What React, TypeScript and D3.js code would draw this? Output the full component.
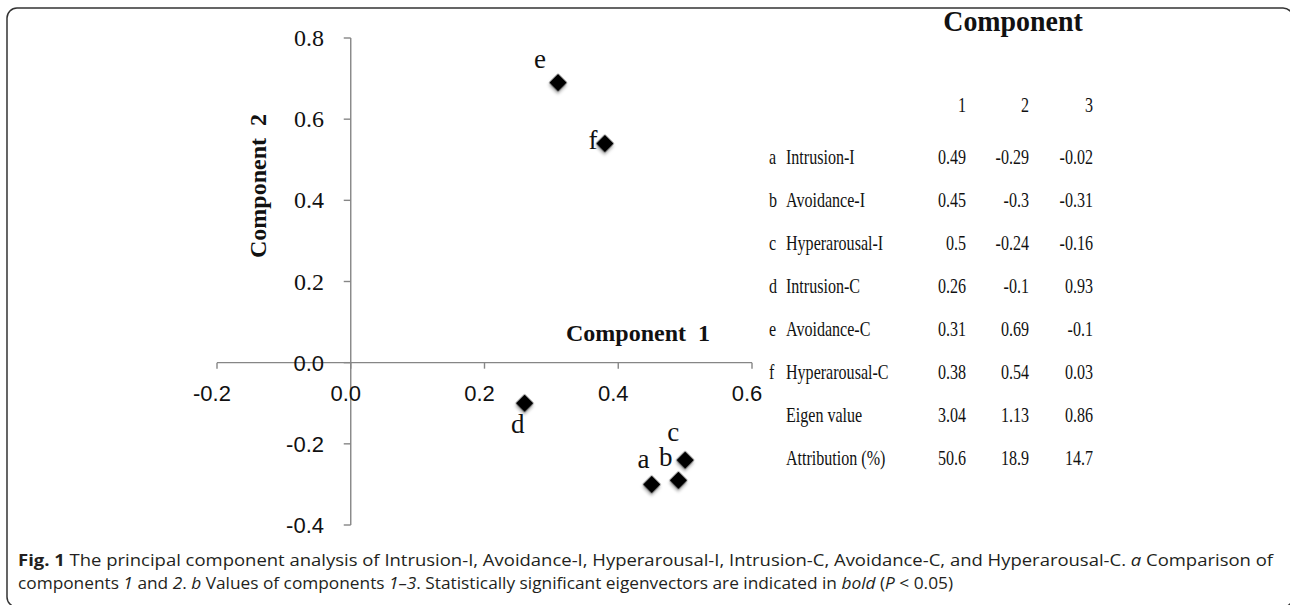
import * as d3 from "d3";

const letters = ["a", "b", "c", "d", "e", "f"];
const variables = [
  "Intrusion-I",
  "Avoidance-I",
  "Hyperarousal-I",
  "Intrusion-C",
  "Avoidance-C",
  "Hyperarousal-C"
];
const component1 = [0.49, 0.45, 0.5, 0.26, 0.31, 0.38];
const component2 = [-0.29, -0.3, -0.24, -0.1, 0.69, 0.54];
const component3 = [-0.02, -0.31, -0.16, 0.93, -0.1, 0.03];
const eigenValues = ["3.04", "1.13", "0.86"];
const attribution = ["50.6", "18.9", "14.7"];
const componentHeaders = ["1", "2", "3"];
const xTicks = [-0.2, 0, 0.2, 0.4, 0.6];
const yTicks = [-0.4, -0.2, 0, 0.2, 0.4, 0.6, 0.8];

// label offsets (px) from each marker, as set in the figure
const labelOffsets: Record<string, [number, number]> = {
  a: [-35, -12],
  b: [14, -18],
  c: [-12, -19],
  d: [-7, 30],
  e: [-18, -15],
  f: [-12, 5]
};

const serif = "'Liberation Serif', 'Times New Roman', serif";
const sans = "'Liberation Sans', Arial, sans-serif";
const captionFont = "'Open Sans', 'Noto Sans', sans-serif";
const axisColor = "#868686";

const x = d3.scaleLinear().domain([-0.2, 0.6]).range([217, 752]);
const y = d3.scaleLinear().domain([-0.4, 0.8]).range([525, 38]);

const colRight = [966, 1029, 1093];
const rowY = d3.range(8).map((i) => 156 + i * 43);
const tableScale = "scale(0.73,1)";

const tickFmt = (v: number): string => d3.format(".1f")(v).replace("\u2212", "-");

export default function App(): React.JSX.Element {
  const diamond = d3.symbol().type(d3.symbolSquare).size(160)() ?? "";
  const x0 = x(0);
  const y0 = y(0);

  const tableRows = [
    ...variables.map((name, i) => ({
      letter: letters[i],
      name,
      values: [String(component1[i]), String(component2[i]), String(component3[i])]
    })),
    { letter: "", name: "Eigen value", values: eigenValues },
    { letter: "", name: "Attribution (%)", values: attribution }
  ];

  return (
    <svg
      width={1290}
      height={605}
      style={{ position: "absolute", left: 0, top: 0, background: "#fff" }}
    >
      <defs>
        <filter id="shadow" x="-50%" y="-50%" width="200%" height="200%">
          <feDropShadow dx="1.5" dy="2" stdDeviation="1.5" floodColor="#000" floodOpacity="0.35" />
        </filter>
      </defs>
      <rect x={7} y={8} width={1286} height={599} rx={10} fill="none" stroke="#333" strokeWidth={1.5} />

      {/* axes */}
      <line x1={x(-0.2)} x2={x(0.6)} y1={y0} y2={y0} stroke={axisColor} strokeWidth={1.4} />
      <line x1={x0} x2={x0} y1={y(0.8)} y2={y(-0.4)} stroke={axisColor} strokeWidth={1.4} />
      {xTicks.map((t) => (
        <line key={`xt${t}`} x1={x(t)} x2={x(t)} y1={y0} y2={y0 + 6} stroke={axisColor} strokeWidth={1.4} />
      ))}
      {yTicks.map((t) => (
        <line key={`yt${t}`} x1={x0 - 7} x2={x0} y1={y(t)} y2={y(t)} stroke={axisColor} strokeWidth={1.4} />
      ))}
      {xTicks.map((t) => (
        <text key={`xl${t}`} x={x(t) - 5} y={y0 + 38} textAnchor="middle" fontFamily={sans} fontSize={22} fill="#111">
          {tickFmt(t)}
        </text>
      ))}
      {yTicks.map((t) => (
        <text
          key={`yl${t}`}
          x={324}
          y={y(t) + 8}
          textAnchor="end"
          fontFamily={t > 0 ? serif : sans}
          fontSize={t > 0 ? 24 : 22}
          fill="#111"
        >
          {tickFmt(t)}
        </text>
      ))}
      <text x={566} y={341} fontFamily={serif} fontWeight="bold" fontSize={24} fill="#111" style={{ whiteSpace: "pre" }}>
        {"Component  1"}
      </text>
      <text
        transform="translate(266,186) rotate(-90)"
        textAnchor="middle"
        fontFamily={serif}
        fontWeight="bold"
        fontSize={24}
        fill="#111"
        style={{ whiteSpace: "pre" }}
      >
        {"Component  2"}
      </text>

      {/* points */}
      {letters.map((l, i) => (
        <g key={`p${l}`}>
          <path
            d={diamond}
            transform={`translate(${x(component1[i])},${y(component2[i])}) rotate(45)`}
            fill="#000"
            filter="url(#shadow)"
          />
          <text
            x={x(component1[i]) + labelOffsets[l][0]}
            y={y(component2[i]) + labelOffsets[l][1]}
            textAnchor="middle"
            fontFamily={serif}
            fontSize={27}
            fill="#111"
          >
            {l}
          </text>
        </g>
      ))}

      {/* table */}
      <text transform="translate(1013,31) scale(0.93,1)" textAnchor="middle" fontFamily={serif} fontWeight="bold" fontSize={30} fill="#111">
        Component
      </text>
      {componentHeaders.map((h, j) => (
        <text key={`h${h}`} transform={`translate(${colRight[j]},112) ${tableScale}`} textAnchor="end" fontFamily={serif} fontSize={22} fill="#111">
          {h}
        </text>
      ))}
      {tableRows.map((row, i) => (
        <g key={`r${row.name}`}>
          <text transform={`translate(769,${rowY[i] + 8}) ${tableScale}`} fontFamily={serif} fontSize={22} fill="#111">
            {row.letter}
          </text>
          <text transform={`translate(786,${rowY[i] + 8}) ${tableScale}`} fontFamily={serif} fontSize={22} fill="#111">
            {row.name}
          </text>
          {row.values.map((v, j) => (
            <text
              key={`v${j}`}
              transform={`translate(${colRight[j]},${rowY[i] + 8}) ${tableScale}`}
              textAnchor="end"
              fontFamily={serif}
              fontSize={22}
              fill="#111"
            >
              {v}
            </text>
          ))}
        </g>
      ))}

      {/* caption */}
      <text x={18} y={566} fontFamily={captionFont} fontSize={16} fill="#231f20" textLength={1255} lengthAdjust="spacingAndGlyphs">
        <tspan fontWeight="bold">Fig. 1</tspan>
        {" The principal component analysis of Intrusion-I, Avoidance-I, Hyperarousal-I, Intrusion-C, Avoidance-C, and Hyperarousal-C. "}
        <tspan fontStyle="italic">a</tspan>
        {" Comparison of"}
      </text>
      <text x={18} y={589} fontFamily={captionFont} fontSize={16} fill="#231f20" textLength={935} lengthAdjust="spacingAndGlyphs">
        {"components "}
        <tspan fontStyle="italic">1</tspan>
        {" and "}
        <tspan fontStyle="italic">2</tspan>
        {". "}
        <tspan fontStyle="italic">b</tspan>
        {" Values of components "}
        <tspan fontStyle="italic">1–3</tspan>
        {". Statistically significant eigenvectors are indicated in "}
        <tspan fontStyle="italic">bold</tspan>
        {" ("}
        <tspan fontStyle="italic">P</tspan>
        {" < 0.05)"}
      </text>
    </svg>
  );
}
